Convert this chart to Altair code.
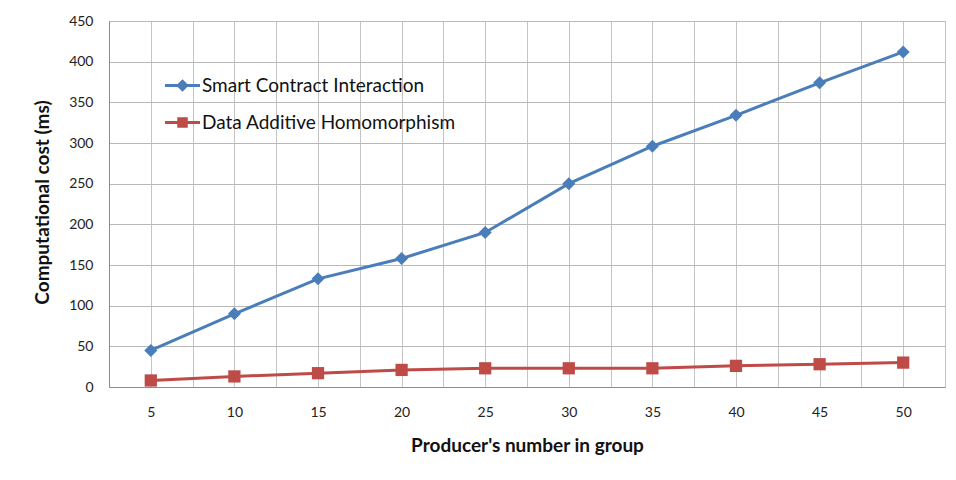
import altair as alt
import pandas as pd

producers = [5, 10, 15, 20, 25, 30, 35, 40, 45, 50]
smart_contract = [45, 90, 133, 158, 190, 250, 296, 334, 374, 412]
additive_homo = [8, 13, 17, 21, 23, 23, 23, 26, 28, 30]
series_names = ["Smart Contract Interaction", "Data Additive Homomorphism"]
colors = ["#4A7EBB", "#BE4B48"]
y_ticks = [0, 50, 100, 150, 200, 250, 300, 350, 400, 450]
x_grid = [2.5 + 2.5 * i for i in range(21)]

rows = []
for p, a, b in zip(producers, smart_contract, additive_homo):
    rows.append({"x": p, "y": a, "series": series_names[0]})
    rows.append({"x": p, "y": b, "series": series_names[1]})
df = pd.DataFrame(rows)

FONT = "Lato"

x_enc = alt.X(
    "x:Q",
    scale=alt.Scale(domain=[2.5, 52.5], nice=False, zero=False),
    axis=alt.Axis(
        values=x_grid,
        labelExpr="datum.value % 5 == 0 ? datum.label : ''",
        title="Producer's number in group",
        ticks=False,
        labelPadding=18,
        titlePadding=17,
        labelFontSize=14,
        labelFont=FONT,
        labelColor="#222222",
        titleFont=FONT,
        titleFontSize=19,
        titleFontWeight="bold",
        titleColor="#111111",
        gridColor="#C4C4C4",
        gridWidth=1,
        domainColor="#8C8C8C",
    ),
)
y_enc = alt.Y(
    "y:Q",
    scale=alt.Scale(domain=[0, 450], nice=False),
    axis=alt.Axis(
        values=y_ticks,
        title="Computational cost (ms)",
        ticks=False,
        labelPadding=16,
        labelFontSize=14,
        labelFont=FONT,
        labelColor="#222222",
        titleFont=FONT,
        titleFontSize=19,
        titleFontWeight="bold",
        titleColor="#111111",
        titleX=-57,
        titleY=181,
        gridColor="#B8B8B8",
        gridWidth=1,
        domainColor="#8C8C8C",
    ),
)

color_scale = alt.Scale(domain=series_names, range=colors)

lines = alt.Chart(df).mark_line(strokeWidth=3).encode(
    x=x_enc,
    y=y_enc,
    color=alt.Color("series:N", scale=color_scale, legend=None),
    detail="series:N",
)

points = alt.Chart(df).mark_point(filled=True, opacity=1).encode(
    x="x:Q",
    y="y:Q",
    color=alt.Color("series:N", scale=color_scale, legend=None),
    shape=alt.Shape(
        "series:N",
        scale=alt.Scale(domain=series_names, range=["diamond", "square"]),
        legend=None,
    ),
    size=alt.Size(
        "series:N",
        scale=alt.Scale(domain=series_names, range=[170, 150]),
        legend=None,
    ),
)

blue_sym = "M-1,-0.08L1,-0.08L1,0.08L-1,0.08Z M0,-0.36L0.36,0L0,0.36L-0.36,0Z"
red_sym = "M-1,-0.08L1,-0.08L1,0.08L-1,0.08Z M-0.3,-0.3L0.3,-0.3L0.3,0.3L-0.3,0.3Z"

leg = alt.Legend(
    title=None,
    orient="none",
    legendX=56,
    legendY=47,
    symbolOpacity=1,
    symbolStrokeWidth=0,
    symbolSize=1225,
    labelFont=FONT,
    labelFontSize=19,
    labelColor="#111111",
    labelOffset=2,
    labelLimit=400,
    rowPadding=9,
)

legend_layer = alt.Chart(df).mark_point(filled=True, opacity=0, size=1225).encode(
    x="x:Q",
    y="y:Q",
    color=alt.Color("series:N", scale=color_scale, legend=leg),
    shape=alt.Shape(
        "series:N",
        scale=alt.Scale(domain=series_names, range=[blue_sym, red_sym]),
        legend=leg,
    ),
)

chart = (
    alt.layer(lines, points, legend_layer)
    .resolve_scale(color="independent", shape="independent")
    .resolve_legend(color="independent", shape="independent")
    .properties(
        width=836,
        height=366,
        autosize=alt.AutoSizeParams(type="none"),
        padding={"left": 101, "top": 13, "right": 2, "bottom": 90},
    )
    .configure_view(stroke="#8C8C8C", strokeWidth=1)
    .configure(background="white")
)

chart.save("out.html", embed_options={"renderer": "svg", "actions": False})
